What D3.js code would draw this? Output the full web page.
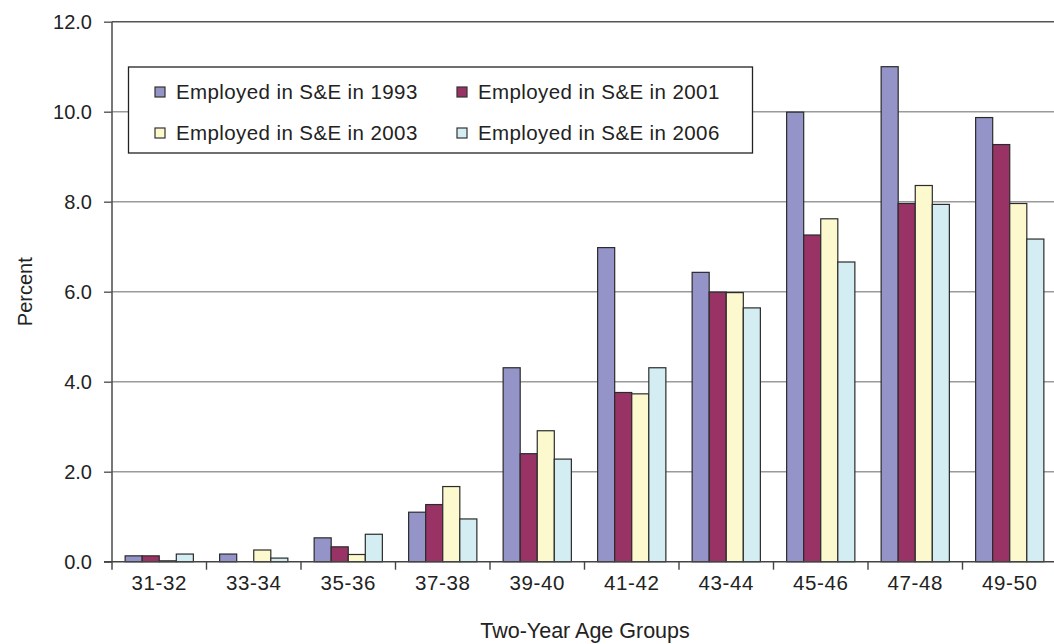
<!DOCTYPE html>
<html>
<head>
<meta charset="utf-8">
<script src="https://cdn.jsdelivr.net/npm/d3@7"></script>
<style>
  html, body { margin: 0; padding: 0; background: #fff; }
  svg { display: block; font-family: "Liberation Sans", Arial, Helvetica, sans-serif; }
</style>
</head>
<body>
<svg id="chart" width="1054" height="644"></svg>
<script>
// Share of doctorate holders employed in S&E, by two-year age group
const ageGroups = ["31-32", "33-34", "35-36", "37-38", "39-40", "41-42", "43-44", "45-46", "47-48", "49-50"];
const seriesNames = ["Employed in S&E in 1993", "Employed in S&E in 2001", "Employed in S&E in 2003", "Employed in S&E in 2006"];
const values1993 = [0.13, 0.17, 0.53, 1.10, 4.31, 6.98, 6.43, 9.99, 11.00, 9.87];
const values2001 = [0.13, 0.00, 0.33, 1.27, 2.40, 3.76, 5.99, 7.26, 7.96, 9.27];
const values2003 = [0.02, 0.26, 0.16, 1.67, 2.91, 3.73, 5.98, 7.62, 8.36, 7.96];
const values2006 = [0.17, 0.08, 0.61, 0.95, 2.28, 4.31, 5.64, 6.66, 7.94, 7.17];
const yTicks = [0, 2, 4, 6, 8, 10, 12];
const seriesColors = ["#9494c8", "#993366", "#fcf9cf", "#d3edf2"];
const yTitle = "Percent";
const xTitle = "Two-Year Age Groups";

const allSeries = [values1993, values2001, values2003, values2006];

const svg = d3.select("#chart");
const plot = { left: 112, right: 1057, top: 21.7, bottom: 561.7 };

const x = d3.scaleBand().domain(ageGroups).range([plot.left, plot.right]).paddingInner(0).paddingOuter(0);
const xInner = d3.scaleBand().domain(d3.range(seriesNames.length))
  .range([0, x.bandwidth()]).paddingInner(0).paddingOuter(0.77);
const y = d3.scaleLinear().domain([0, 12]).range([plot.bottom, plot.top]);

// Horizontal gridlines (the top one doubles as the plot's upper border)
svg.append("g")
  .selectAll("line")
  .data(yTicks.filter(d => d > 0))
  .join("line")
  .attr("x1", plot.left).attr("x2", 1054)
  .attr("y1", d => y(d)).attr("y2", d => y(d))
  .attr("stroke", d => d === 12 ? "#555" : "#9a9a9a")
  .attr("stroke-width", d => d === 12 ? 1.6 : 1.4);

// Bars
const groups = svg.append("g")
  .selectAll("g")
  .data(ageGroups)
  .join("g")
  .attr("transform", d => `translate(${x(d)},0)`);

groups.selectAll("rect")
  .data((d, i) => allSeries.map((s, k) => ({ k, v: s[i] })))
  .join("rect")
  .attr("x", d => xInner(d.k))
  .attr("width", xInner.bandwidth())
  .attr("y", d => y(d.v))
  .attr("height", d => y(0) - y(d.v))
  .attr("fill", d => seriesColors[d.k])
  .attr("stroke", "#2b2b2b")
  .attr("stroke-width", d => d.v > 0.01 ? 1.2 : 0);

// Y axis
const yAxis = svg.append("g")
  .attr("transform", `translate(${plot.left},0)`)
  .call(d3.axisLeft(y).tickValues(yTicks).tickFormat(d3.format(".1f")).tickSize(8).tickSizeOuter(0).tickPadding(12));
yAxis.select(".domain").remove();
yAxis.selectAll(".tick line").attr("stroke", "#555").attr("stroke-width", 1.4);
yAxis.selectAll(".tick text").attr("font-size", 20).attr("fill", "#222").attr("font-family", "Liberation Sans, Arial, sans-serif");

// Axis lines
svg.append("line")
  .attr("x1", plot.left).attr("x2", plot.left)
  .attr("y1", plot.top).attr("y2", plot.bottom + 8)
  .attr("stroke", "#555").attr("stroke-width", 1.6);

const xAxis = svg.append("g")
  .attr("transform", `translate(0,${plot.bottom})`)
  .call(d3.axisBottom(x).tickSize(0).tickPadding(12));
xAxis.select(".domain").attr("stroke", "#444").attr("stroke-width", 1.6)
  .attr("d", `M${plot.left - 8},0H1054`);
xAxis.selectAll(".tick text").attr("font-size", 20.5).attr("letter-spacing", 0.6).attr("fill", "#222").attr("font-family", "Liberation Sans, Arial, sans-serif").attr("dy", "0.78em");

// Tick marks at the group boundaries
svg.append("g")
  .selectAll("line")
  .data(ageGroups.slice(1))
  .join("line")
  .attr("x1", d => x(d)).attr("x2", d => x(d))
  .attr("y1", plot.bottom).attr("y2", plot.bottom + 8)
  .attr("stroke", "#444").attr("stroke-width", 1.4);

// Axis titles
svg.append("text")
  .attr("transform", `translate(32,${(plot.top + plot.bottom) / 2}) rotate(-90)`)
  .attr("text-anchor", "middle")
  .attr("font-size", 20).attr("fill", "#222")
  .text(yTitle);

svg.append("text")
  .attr("x", 585).attr("y", 638)
  .attr("text-anchor", "middle")
  .attr("font-size", 21.5).attr("fill", "#222")
  .text(xTitle);

// Legend
const legend = svg.append("g");
legend.append("rect")
  .attr("x", 128.5).attr("y", 67).attr("width", 624).attr("height", 86)
  .attr("fill", "#fff").attr("stroke", "#222").attr("stroke-width", 1.3);

const legendCols = [155, 457];
const legendRows = [92, 133];
const items = legend.selectAll("g.item")
  .data(seriesNames.map((name, k) => ({ name, k })))
  .join("g")
  .attr("class", "item")
  .attr("transform", d => `translate(${legendCols[d.k % 2]},${legendRows[Math.floor(d.k / 2)]})`);

items.append("rect")
  .attr("x", 0).attr("y", -5).attr("width", 10).attr("height", 10)
  .attr("fill", d => seriesColors[d.k])
  .attr("stroke", "#333").attr("stroke-width", 1.2);

items.append("text")
  .attr("x", 21).attr("y", 0).attr("dy", "0.35em")
  .attr("font-size", 20.5).attr("letter-spacing", 0.4).attr("fill", "#222")
  .text(d => d.name);
</script>
</body>
</html>
